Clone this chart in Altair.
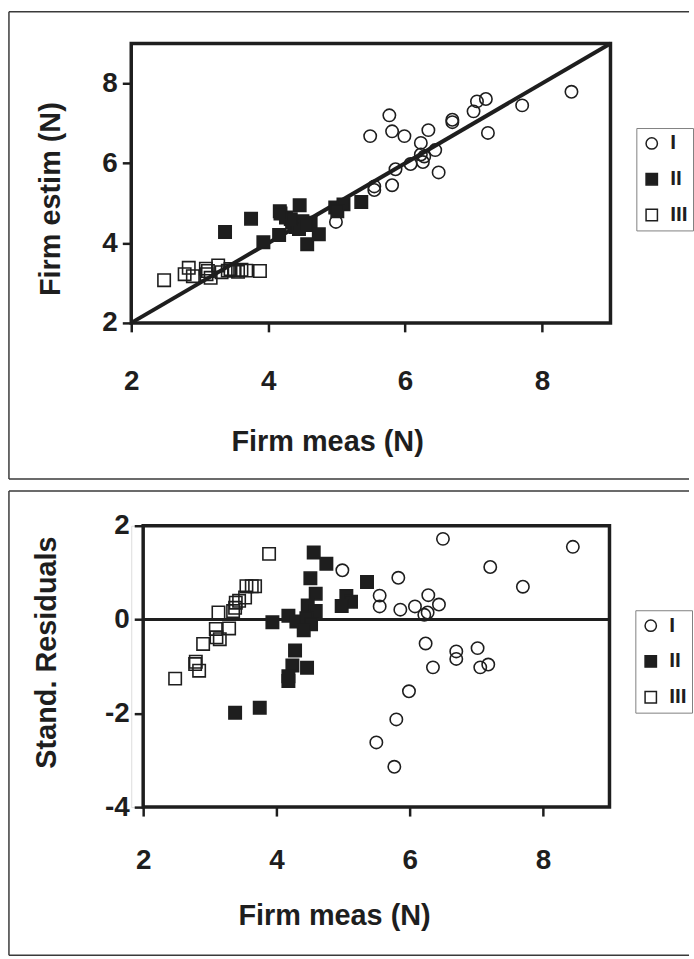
import altair as alt
import pandas as pd

# ---------------- data ----------------
groups = ["I", "II", "III"]

# Top panel: Firm estim vs Firm meas
top_I_x = [8.43, 7.71, 7.18, 7.05, 7.00, 7.21, 6.69, 6.69, 5.77, 5.81, 5.49, 5.99, 6.34,
           6.23, 6.44, 6.23, 6.28, 6.26, 6.08, 5.86, 6.49, 5.81, 5.55, 5.55, 4.99]
top_I_y = [7.79, 7.45, 7.61, 7.55, 7.30, 6.76, 7.09, 7.03, 7.20, 6.80, 6.68, 6.68, 6.83,
           6.51, 6.33, 6.22, 6.17, 6.03, 5.98, 5.85, 5.77, 5.45, 5.42, 5.33, 4.53]
top_II_x = [3.37, 3.75, 3.93, 4.16, 4.17, 4.26, 4.46, 4.35, 4.40, 4.50, 4.62, 4.45, 4.57,
            4.74, 4.33, 4.55, 4.98, 5.10, 5.01, 5.36, 4.18]
top_II_y = [4.28, 4.61, 4.02, 4.20, 4.80, 4.64, 4.95, 4.51, 4.40, 4.55, 4.51, 4.35, 3.97,
            4.22, 4.60, 4.45, 4.89, 4.97, 4.80, 5.03, 4.74]
top_III_x = [2.48, 2.78, 2.84, 2.90, 3.09, 3.12, 3.16, 3.10, 3.27, 3.32, 3.41, 3.51, 3.61,
             3.68, 3.88, 3.45, 3.56]
top_III_y = [3.07, 3.22, 3.38, 3.17, 3.36, 3.30, 3.13, 3.22, 3.44, 3.27, 3.31, 3.31, 3.33,
             3.31, 3.30, 3.35, 3.28]
diag_x = [2, 9]
diag_y = [2, 9]

# Bottom panel: standardised residuals vs Firm meas
bot_I_x = [4.99, 5.83, 5.55, 5.55, 5.86, 6.08, 6.28, 6.27, 6.22, 6.44, 6.24, 6.35, 5.99,
           5.80, 5.50, 5.77, 6.50, 7.21, 7.70, 8.45, 6.70, 6.70, 7.02, 7.06, 7.18]
bot_I_y = [1.05, 0.89, 0.51, 0.28, 0.21, 0.28, 0.52, 0.15, 0.10, 0.32, -0.51, -1.02, -1.53,
           -2.13, -2.62, -3.14, 1.72, 1.12, 0.70, 1.55, -0.68, -0.84, -0.61, -1.02, -0.96]
bot_II_x = [4.56, 4.75, 4.51, 4.59, 4.47, 4.59, 4.18, 3.94, 4.30, 4.45, 4.52, 4.41, 4.28,
            4.24, 4.46, 4.18, 4.18, 3.75, 3.38, 5.36, 5.05, 5.12, 4.98]
bot_II_y = [1.43, 1.19, 0.88, 0.55, 0.30, 0.18, 0.08, -0.06, -0.04, 0.03, -0.10, -0.23, -0.66,
            -0.98, -1.03, -1.21, -1.31, -1.88, -1.99, 0.80, 0.50, 0.38, 0.29]
bot_III_x = [2.48, 2.79, 2.84, 2.78, 2.90, 3.09, 3.10, 3.15, 3.13, 3.29, 3.35, 3.39, 3.38,
             3.44, 3.53, 3.55, 3.63, 3.68, 3.89]
bot_III_y = [-1.26, -0.90, -1.09, -0.95, -0.52, -0.20, -0.38, -0.42, 0.15, -0.19, 0.18, 0.36,
             0.25, 0.40, 0.47, 0.71, 0.71, 0.71, 1.40]
zero_y = [0]

x_ticks = [2, 4, 6, 8]
top_y_ticks = [2, 4, 6, 8]
bot_y_ticks = [-4, -2, 0, 2]

# ---------------- styling ----------------
FONT = "Liberation Sans"
INK = "#1e1e1e"
FRAME = "#3a3a3a"
LABEL_EXPR = "datum.value < 0 ? '-' + abs(datum.value) : '' + datum.value"


def make_df(xs, ys):
    rows = []
    for g, gx, gy in zip(groups, xs, ys):
        for a, b in zip(gx, gy):
            rows.append({"x": a, "y": b, "group": g})
    return pd.DataFrame(rows)


def axis(values, title, label_pad, title_pad, **kw):
    return alt.Axis(values=values, title=title, grid=False, domain=False,
                    labelExpr=LABEL_EXPR,
                    labelFont=FONT, labelFontSize=28, labelFontWeight="bold", labelColor=INK,
                    labelPadding=label_pad, labelFlush=False, labelOverlap=False,
                    titleFont=FONT, titleFontSize=29, titleFontWeight="bold", titleColor=INK,
                    titlePadding=title_pad, tickSize=9, tickWidth=2.5, tickColor=INK, **kw)


def frame_layers(left, top, right, bottom):
    one = pd.DataFrame({"k": [0]})
    base = alt.Chart(one).mark_rule(color=FRAME, strokeWidth=1.5)
    return [
        base.encode(x=alt.value(left), x2=alt.value(right), y=alt.value(top)),
        base.encode(x=alt.value(left), y=alt.value(top), y2=alt.value(bottom)),
        base.encode(x=alt.value(left), x2=alt.value(right), y=alt.value(bottom)),
    ]


def plot_box(x0, x1, h):
    one = pd.DataFrame({"k": [0]})
    return alt.Chart(one).mark_rect(fill="transparent", stroke=INK, strokeWidth=3.5).encode(
        x=alt.value(x0), x2=alt.value(x1), y=alt.value(0), y2=alt.value(h))


def scatter(df, xrange, ydom, yticks, ytitle, xaxis_kw, yaxis_kw, lx, ly):
    legend = alt.Legend(orient="none", legendX=lx, legendY=ly, title=None,
                        strokeColor="#808080", padding=5, rowPadding=14,
                        labelFont=FONT, labelFontSize=21, labelFontWeight="bold",
                        labelColor=INK, labelOffset=8, symbolSize=130,
                        symbolStrokeWidth=1.5)
    sc = dict(domain=groups)
    return alt.Chart(df).mark_point(size=155, strokeWidth=1.6, opacity=1).encode(
        x=alt.X("x:Q", scale=alt.Scale(domain=[2, 9], range=xrange, nice=False, zero=False),
                axis=axis(x_ticks, "Firm meas (N)", **xaxis_kw)),
        y=alt.Y("y:Q", scale=alt.Scale(domain=ydom, nice=False, zero=False),
                axis=axis(yticks, ytitle, **yaxis_kw)),
        shape=alt.Shape("group:N", scale=alt.Scale(range=["circle", "square", "square"], **sc),
                        legend=legend),
        fill=alt.Fill("group:N", scale=alt.Scale(range=["transparent", INK, "transparent"], **sc),
                      legend=legend),
        stroke=alt.Stroke("group:N", scale=alt.Scale(range=[INK, INK, INK], **sc),
                          legend=legend),
    )


# Both panels share the same group origin (x = 131 px on the page).
# top panel: plot area 131..613 x 40..321
top_df = make_df([top_I_x, top_II_x, top_III_x], [top_I_y, top_II_y, top_III_y])
diag = alt.Chart(pd.DataFrame({"x": diag_x, "y": diag_y})).mark_line(
    color=INK, strokeWidth=4).encode(x="x:Q", y="y:Q")
top = alt.layer(
    *frame_layers(-123, -32, 561, 438),
    plot_box(0, 482, 281),
    diag,
    scatter(top_df, [0, 482], [2, 9], top_y_ticks, "Firm estim (N)",
            dict(label_pad=36, title_pad=32, titleX=197),
            dict(label_pad=5, title_pad=37, titleY=156),
            508, 85),
).properties(width=482, height=281)

# bottom panel: plot area 143..612 x 523..806 (x range starts 12 px into the group)
bot_df = make_df([bot_I_x, bot_II_x, bot_III_x], [bot_I_y, bot_II_y, bot_III_y])
zero = alt.Chart(pd.DataFrame({"y": zero_y})).mark_rule(
    color=INK, strokeWidth=3).encode(y="y:Q", x=alt.value(12), x2=alt.value(481))
bottom = alt.layer(
    *frame_layers(-123, -35, 561, 432),
    plot_box(12, 481, 283),
    zero,
    scatter(bot_df, [12, 481], [-4, 2], bot_y_ticks, "Stand. Residuals",
            dict(label_pad=31, title_pad=27, titleX=204),
            dict(label_pad=5, title_pad=43, titleY=127, offset=-12),
            507, 85),
).properties(width=481, height=283)

chart = alt.vconcat(top, bottom, spacing=8).resolve_scale(
    shape="independent", fill="independent", stroke="independent"
).properties(
    padding={"left": 7, "top": 7, "right": 0, "bottom": 0}
).configure_view(strokeWidth=0).configure(background="white")

chart.save("out.html", embed_options={"renderer": "svg", "actions": False})
